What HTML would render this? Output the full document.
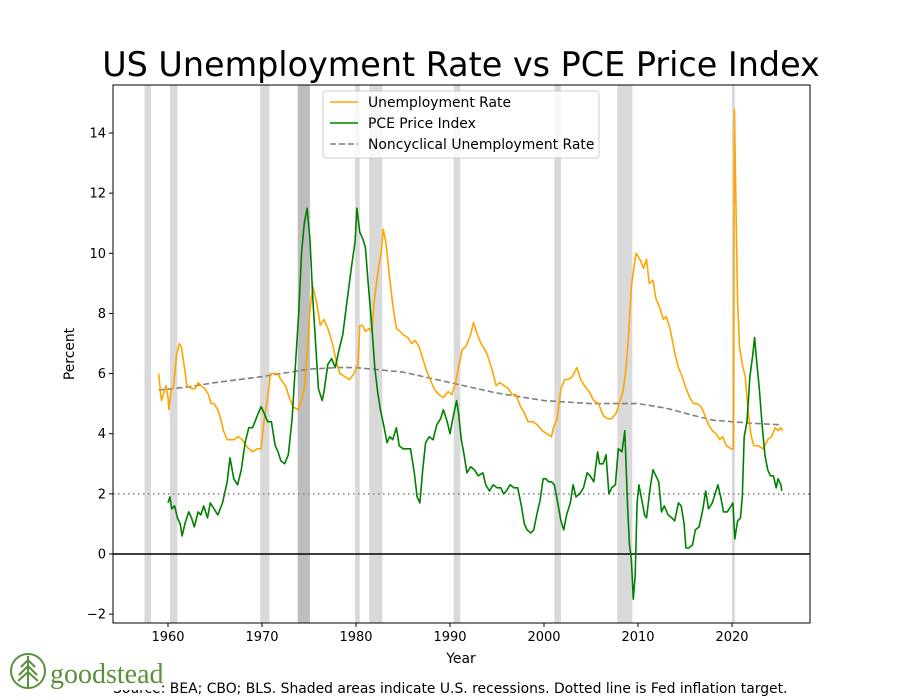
<!DOCTYPE html>
<html><head><meta charset="utf-8"><style>
body{margin:0;background:#fff}
svg{display:block;font-family:"DejaVu Sans","Liberation Sans",sans-serif}
</style></head><body>
<svg id="chart" width="900" height="700" viewBox="0 0 900 700">
<rect width="900" height="700" fill="#fff"/>
<text x="461" y="76" text-anchor="middle" font-size="33.4">US Unemployment Rate vs PCE Price Index</text>
<g id="recessions"></g>
<g id="grid"></g>
<g id="series"></g>
<g id="axes"></g>
<g id="legend">
<rect x="323" y="91" width="276" height="67" fill="#fff" fill-opacity="0.8" stroke="#ccc" rx="3"/>
<line x1="330" y1="102" x2="358" y2="102" stroke="orange" stroke-width="1.5"/>
<text x="368" y="107" font-size="13.9">Unemployment Rate</text>
<line x1="330" y1="123" x2="358" y2="123" stroke="green" stroke-width="1.5"/>
<text x="368" y="128" font-size="13.9">PCE Price Index</text>
<line x1="330" y1="144" x2="358" y2="144" stroke="gray" stroke-width="1.5" stroke-dasharray="6,3"/>
<text x="368" y="149" font-size="13.9">Noncyclical Unemployment Rate</text>
</g>
<text x="461" y="663" text-anchor="middle" font-size="13.9">Year</text>
<text transform="translate(74,354) rotate(-90)" text-anchor="middle" font-size="13.9">Percent</text>
<text x="113" y="693" font-size="13.9">Source: BEA; CBO; BLS. Shaded areas indicate U.S. recessions. Dotted line is Fed inflation target.</text>
<g>
<rect x="8" y="652" width="152" height="38" fill="#fff"/>
<circle cx="28" cy="671" r="17" fill="none" stroke="#5a8f3c" stroke-width="2"/>
<path d="M28 656 L28 688 M28 660 L21 667 M28 660 L35 667 M28 666 L19 675 M28 666 L37 675 M28 672 L18 681 M28 672 L38 681" stroke="#5a8f3c" stroke-width="2" fill="none"/>
<text x="50" y="683" font-family="Liberation Serif,serif" font-size="28" fill="#5a8f3c">goodstead</text>
</g>
</svg>
<script>
const recStart=[1957.5,1960.2,1969.8,1973.8,1973.8,1979.9,1981.4,1990.4,2001.1,2007.8,2020.0];
const recEnd=[1958.2,1961.0,1970.8,1975.1,1975.1,1980.4,1982.8,1991.1,2001.8,2009.4,2020.3];
const unYears=[1959.0,1959.3,1959.6,1959.8,1960.0,1960.1,1960.3,1960.6,1960.9,1961.2,1961.4,1961.8,1962.0,1962.5,1962.9,1963.2,1963.5,1963.9,1964.3,1964.6,1964.9,1965.3,1965.6,1965.9,1966.3,1966.6,1967.0,1967.5,1967.9,1968.3,1968.6,1969.0,1969.5,1969.9,1970.2,1970.5,1970.9,1971.3,1971.7,1972.0,1972.5,1972.9,1973.3,1973.8,1974.2,1974.5,1974.8,1975.1,1975.4,1975.8,1976.2,1976.6,1977.0,1977.5,1977.9,1978.3,1978.8,1979.3,1979.8,1980.2,1980.4,1980.7,1981.0,1981.4,1981.7,1981.9,1982.3,1982.7,1982.9,1983.2,1983.5,1983.9,1984.3,1984.7,1985.0,1985.5,1985.9,1986.3,1986.7,1987.0,1987.5,1987.9,1988.3,1988.8,1989.3,1989.8,1990.2,1990.6,1990.9,1991.3,1991.7,1992.2,1992.5,1992.9,1993.3,1993.7,1994.0,1994.5,1994.9,1995.3,1995.7,1996.2,1996.6,1997.0,1997.5,1997.9,1998.3,1998.8,1999.3,1999.8,2000.3,2000.8,2001.0,2001.4,2001.8,2002.2,2002.6,2003.0,2003.5,2003.9,2004.3,2004.8,2005.3,2005.8,2006.3,2006.8,2007.2,2007.7,2008.0,2008.4,2008.7,2009.0,2009.3,2009.6,2009.8,2010.2,2010.6,2010.9,2011.2,2011.6,2011.9,2012.3,2012.7,2013.0,2013.4,2013.9,2014.3,2014.7,2015.0,2015.5,2015.9,2016.3,2016.7,2017.0,2017.5,2017.9,2018.3,2018.7,2019.0,2019.4,2019.9,2020.15,2020.25,2020.45,2020.6,2020.8,2021.1,2021.4,2021.7,2022.0,2022.3,2022.8,2023.3,2023.5,2023.8,2024.2,2024.6,2024.9,2025.2,2025.4];
const unValues=[6.0,5.1,5.4,5.6,5.2,4.8,5.4,5.6,6.6,7.0,6.9,6.1,5.6,5.5,5.5,5.7,5.6,5.5,5.3,5.0,5.0,4.8,4.5,4.1,3.8,3.8,3.8,3.9,3.8,3.6,3.5,3.4,3.5,3.5,4.4,5.0,6.0,6.0,6.0,5.8,5.6,5.2,4.9,4.8,5.1,5.5,6.6,8.1,8.9,8.4,7.6,7.8,7.5,7.0,6.4,6.0,5.9,5.8,6.0,6.3,7.6,7.6,7.4,7.5,7.4,8.3,9.3,10.1,10.8,10.3,9.4,8.3,7.5,7.4,7.3,7.2,7.0,7.1,6.9,6.6,6.1,5.8,5.5,5.3,5.2,5.4,5.3,5.7,6.2,6.8,6.9,7.3,7.7,7.3,7.0,6.8,6.6,6.1,5.6,5.7,5.6,5.5,5.3,5.3,4.9,4.7,4.4,4.4,4.3,4.1,4.0,3.9,4.2,4.5,5.5,5.8,5.8,5.9,6.2,5.8,5.6,5.4,5.1,5.0,4.6,4.5,4.5,4.7,5.0,5.4,6.1,7.3,8.9,9.6,10.0,9.8,9.5,9.8,9.0,9.1,8.5,8.2,7.8,7.9,7.5,6.7,6.2,5.9,5.6,5.2,5.0,5.0,4.9,4.7,4.3,4.1,4.0,3.8,3.9,3.6,3.5,3.5,14.8,11.1,8.4,6.9,6.3,5.9,4.8,4.0,3.6,3.6,3.5,3.6,3.8,3.9,4.2,4.1,4.2,4.1];
const pceYears=[1960.0,1960.2,1960.4,1960.7,1961.0,1961.3,1961.5,1961.8,1962.2,1962.5,1962.8,1963.2,1963.5,1963.8,1964.2,1964.5,1964.9,1965.3,1965.8,1966.3,1966.6,1967.0,1967.4,1967.8,1968.2,1968.6,1969.0,1969.5,1969.9,1970.2,1970.6,1971.0,1971.4,1971.7,1972.0,1972.4,1972.8,1973.2,1973.5,1973.9,1974.2,1974.5,1974.8,1975.1,1975.4,1975.7,1976.0,1976.4,1976.6,1977.0,1977.4,1977.8,1978.2,1978.6,1979.0,1979.5,1979.9,1980.1,1980.4,1980.7,1981.0,1981.3,1981.7,1982.0,1982.3,1982.6,1983.0,1983.3,1983.6,1983.9,1984.3,1984.6,1985.0,1985.4,1985.8,1986.2,1986.5,1986.8,1987.1,1987.4,1987.8,1988.2,1988.6,1989.0,1989.3,1989.7,1990.0,1990.3,1990.7,1990.9,1991.2,1991.5,1991.8,1992.2,1992.6,1993.0,1993.5,1993.8,1994.2,1994.6,1995.0,1995.4,1995.7,1996.0,1996.4,1996.8,1997.2,1997.6,1997.9,1998.2,1998.6,1998.9,1999.3,1999.6,1999.9,2000.2,2000.5,2000.8,2001.1,2001.4,2001.8,2002.1,2002.4,2002.8,2003.1,2003.4,2003.8,2004.2,2004.6,2004.9,2005.3,2005.7,2005.9,2006.3,2006.6,2006.9,2007.2,2007.6,2007.9,2008.3,2008.6,2008.9,2009.1,2009.3,2009.5,2009.7,2009.9,2010.1,2010.4,2010.7,2010.9,2011.3,2011.6,2011.9,2012.2,2012.5,2012.8,2013.2,2013.6,2013.9,2014.3,2014.6,2014.9,2015.1,2015.4,2015.8,2016.1,2016.5,2016.9,2017.2,2017.5,2017.9,2018.2,2018.5,2018.8,2019.1,2019.5,2019.9,2020.1,2020.3,2020.6,2020.9,2021.1,2021.3,2021.6,2021.9,2022.2,2022.4,2022.6,2022.9,2023.2,2023.5,2023.8,2024.1,2024.4,2024.7,2024.9,2025.2,2025.3];
const pceValues=[1.7,1.9,1.5,1.6,1.2,1.0,0.6,1.0,1.4,1.2,0.9,1.4,1.3,1.6,1.2,1.7,1.5,1.3,1.7,2.4,3.2,2.5,2.3,2.8,3.7,4.2,4.2,4.6,4.9,4.7,4.4,4.4,3.6,3.4,3.1,3.0,3.3,4.5,6.0,8.0,10.0,11.0,11.5,10.5,8.5,7.0,5.5,5.1,5.4,6.3,6.5,6.2,6.8,7.3,8.3,9.5,10.4,11.5,10.7,10.5,10.2,9.0,7.5,6.2,5.4,4.8,4.2,3.7,3.9,3.8,4.2,3.6,3.5,3.5,3.5,2.7,1.9,1.7,2.8,3.7,3.9,3.8,4.3,4.5,4.8,4.4,4.0,4.5,5.1,4.7,3.8,3.3,2.7,2.9,2.8,2.6,2.7,2.3,2.1,2.3,2.2,2.2,2.0,2.1,2.3,2.2,2.2,1.6,1.0,0.8,0.7,0.8,1.4,1.8,2.5,2.5,2.4,2.4,2.3,1.8,1.1,0.8,1.3,1.7,2.3,1.9,2.0,2.2,2.7,2.6,2.4,3.4,3.0,3.0,3.3,2.0,2.2,2.3,3.5,3.4,4.1,1.5,0.3,-0.2,-1.5,-0.7,1.7,2.3,1.8,1.3,1.2,2.2,2.8,2.6,2.4,1.4,1.6,1.3,1.2,1.1,1.7,1.6,1.0,0.2,0.2,0.3,0.8,0.9,1.5,2.1,1.5,1.7,2.0,2.3,1.9,1.4,1.4,1.6,1.7,0.5,1.1,1.2,1.9,3.9,4.4,5.9,6.6,7.2,6.5,5.5,4.3,3.3,2.8,2.6,2.6,2.2,2.5,2.3,2.1];
const ncYears=[1959,1962,1965,1970,1975,1978,1980,1985,1990,1995,2000,2005,2010,2013,2016,2018,2020,2022,2025];
const ncValues=[5.45,5.55,5.7,5.9,6.15,6.2,6.2,6.05,5.7,5.35,5.1,5.0,5.0,4.85,4.6,4.45,4.4,4.35,4.3];
const xTicks=[1960,1970,1980,1990,2000,2010,2020];
const yTicks=[-2,0,2,4,6,8,10,12,14];
const inflationTarget=2;

const L=113,R=810,T=85,B=623;
const X=v=>168+(v-1960)*9.4;
const Y=v=>554-v*30.07;
const NS='http://www.w3.org/2000/svg';
function mk(tag,attrs,parent){const e=document.createElementNS(NS,tag);for(const k in attrs)e.setAttribute(k,attrs[k]);parent.appendChild(e);return e;}
const rec=document.getElementById('recessions');
recStart.forEach((s,i)=>{const r=mk('rect',{x:X(s),y:T,width:X(recEnd[i])-X(s),height:B-T,fill:'#808080','fill-opacity':0.3},rec);

});
const g=document.getElementById('grid');
const tl=mk('line',{x1:L,x2:R,y1:Y(inflationTarget),y2:Y(inflationTarget),stroke:'gray','stroke-width':1.5,'stroke-dasharray':'1.5,3.5'},g);


const zl=mk('line',{x1:L,x2:R,y1:Y(0),y2:Y(0),stroke:'#000','stroke-width':1.5},g);


const s=document.getElementById('series');
function line(xs,ys,color,name,dash){const p=mk('polyline',{points:xs.map((x,i)=>X(x).toFixed(1)+','+Y(ys[i]).toFixed(1)).join(' '),fill:'none',stroke:color,'stroke-width':1.6,'stroke-linejoin':'round'},s);if(dash)p.setAttribute('stroke-dasharray',dash);

}
line(ncYears,ncValues,'gray','noncyclical-line','6,3');
line(unYears,unValues,'orange','unemployment-line');
line(pceYears,pceValues,'green','pce-line');
const a=document.getElementById('axes');
mk('rect',{x:L,y:T,width:R-L,height:B-T,fill:'none',stroke:'#000','stroke-width':1},a);
xTicks.forEach(t=>{mk('line',{x1:X(t),x2:X(t),y1:B,y2:B+4,stroke:'#000'},a);
const tx=mk('text',{x:X(t),y:B+18,'text-anchor':'middle','font-size':13},a);tx.textContent=t;

});
yTicks.forEach(t=>{mk('line',{x1:L-4,x2:L,y1:Y(t),y2:Y(t),stroke:'#000'},a);
const tx=mk('text',{x:L-7,y:Y(t)+4.5,'text-anchor':'end','font-size':13},a);tx.textContent=t<0?'\u2212'+(-t):t;

});
</script>
</body></html>
